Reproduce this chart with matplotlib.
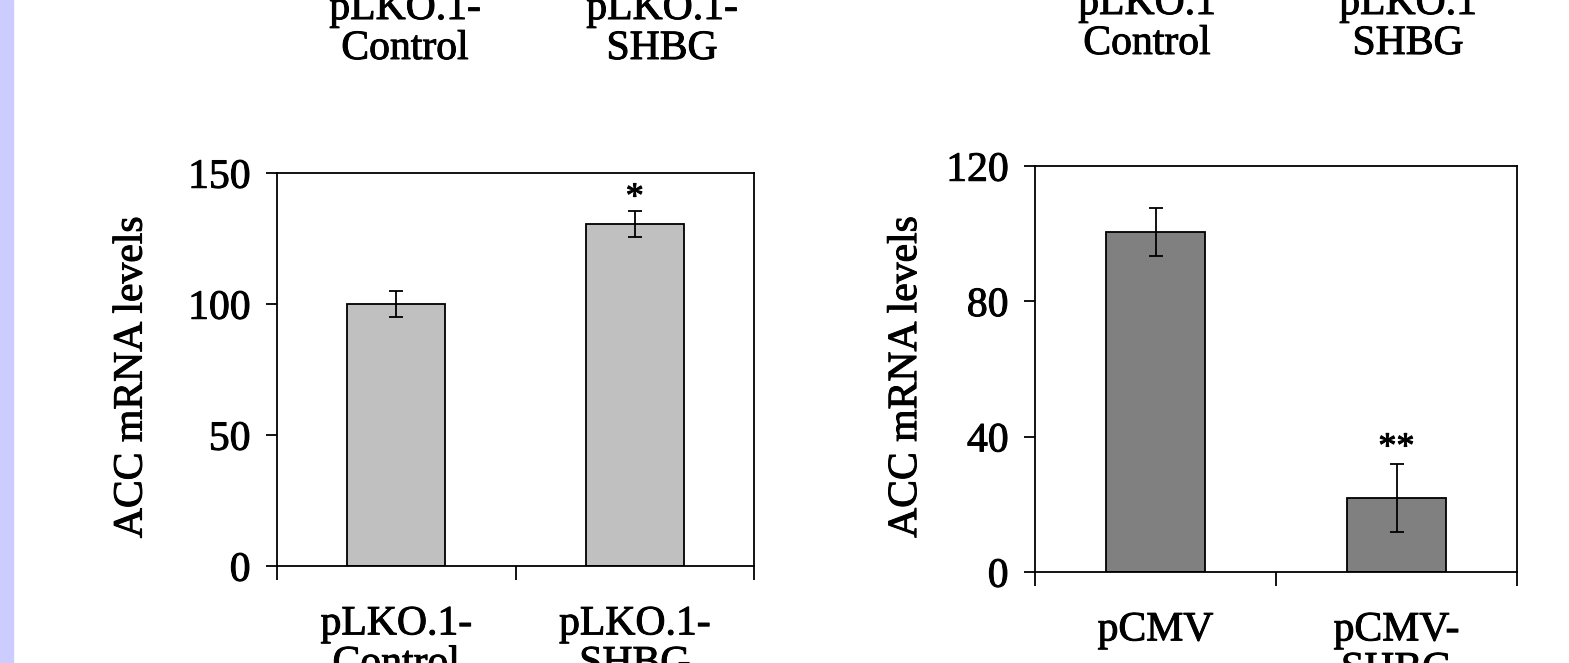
import matplotlib
matplotlib.use("Agg")
import matplotlib.pyplot as plt
import matplotlib.patheffects as pe
from matplotlib.patches import Rectangle
from matplotlib.text import Text

plt.rcParams['font.family'] = ['Liberation Serif', 'DejaVu Serif']

# left panel: knockdown
kd_labels = ['pLKO.1-\nControl', 'pLKO.1-\nSHBG']
kd_values = [100, 130.5]
kd_err = [5, 5]
kd_ticks = [0, 50, 100, 150]

# right panel: overexpression
oe_labels = ['pCMV', 'pCMV-\nSHBG']
oe_values = [100.5, 21.8]
oe_err = [7, 10]
oe_ticks = [0, 40, 80, 120]

# cut-off labels from the panels above
top_left = ['pLKO.1-\nControl', 'pLKO.1-\nSHBG']
top_right = ['pLKO.1\nControl', 'pLKO.1\nSHBG']

W, H = 1569, 663
fig = plt.figure(figsize=(W / 100, H / 100), dpi=100)

# purple strip at the left edge
fig.patches.append(Rectangle((0, 0), 13 / W, 1, transform=fig.transFigure,
                             color='#ccccff', zorder=0))

FS = 30


def panel(rect, labels, values, err, ticks, colour, stars, star_y, label_x):
    ax = fig.add_axes(rect)
    x = list(range(len(values)))
    ax.bar(x, values, width=0.41, color=colour, edgecolor='black', linewidth=1.3,
           zorder=2)
    ax.errorbar(x, values, yerr=err, fmt='none', ecolor='black', elinewidth=1.3,
                capsize=5, capthick=1.3, zorder=3)
    ax.set_xlim(-0.5, len(values) - 0.5)
    ax.set_ylim(ticks[0], ticks[-1])
    ax.set_yticks(ticks)
    ax.tick_params(axis='y', direction='out', length=8, width=1.3, pad=11,
                   labelsize=FS)
    # ticks between categories, labels under bars
    ax.set_xticks([i - 0.5 for i in range(len(values) + 1)])
    ax.set_xticklabels([])
    ax.tick_params(axis='x', which='major', direction='out', length=10, width=1.3)
    ax.set_xticks(x, minor=True)
    ax.set_xticklabels(labels, minor=True, fontsize=FS, linespacing=1.05)
    ax.tick_params(axis='x', which='minor', length=0, pad=28)
    for s in ax.spines.values():
        s.set_linewidth(1.3)
    ax.set_ylabel('ACC mRNA levels', fontsize=FS)
    ax.yaxis.set_label_coords(label_x, 0.48)
    ax.text(1, star_y, stars, ha='center', va='baseline', fontsize=26)
    return ax


panel([277 / W, (H - 566) / H, 477 / W, 393 / H], kd_labels, kd_values, kd_err,
      kd_ticks, '#c0c0c0', '*', 137, -0.265)
panel([1035 / W, (H - 572) / H, 482 / W, 406 / H], oe_labels, oe_values, oe_err,
      oe_ticks, '#808080', '**', 34, -0.228)

for xpos, txt in zip([405, 662], top_left):
    fig.text(xpos / W, (H - 68) / H, txt, ha='center', va='bottom', fontsize=FS,
             linespacing=1.05)
for xpos, txt in zip([1147, 1408], top_right):
    fig.text(xpos / W, (H - 63) / H, txt, ha='center', va='bottom', fontsize=FS,
             linespacing=1.05)

# the scanned figure has heavier type
for t in fig.findobj(Text):
    t.set_path_effects([pe.withStroke(linewidth=0.7, foreground='black')])

fig.savefig('out.png', dpi=100)
